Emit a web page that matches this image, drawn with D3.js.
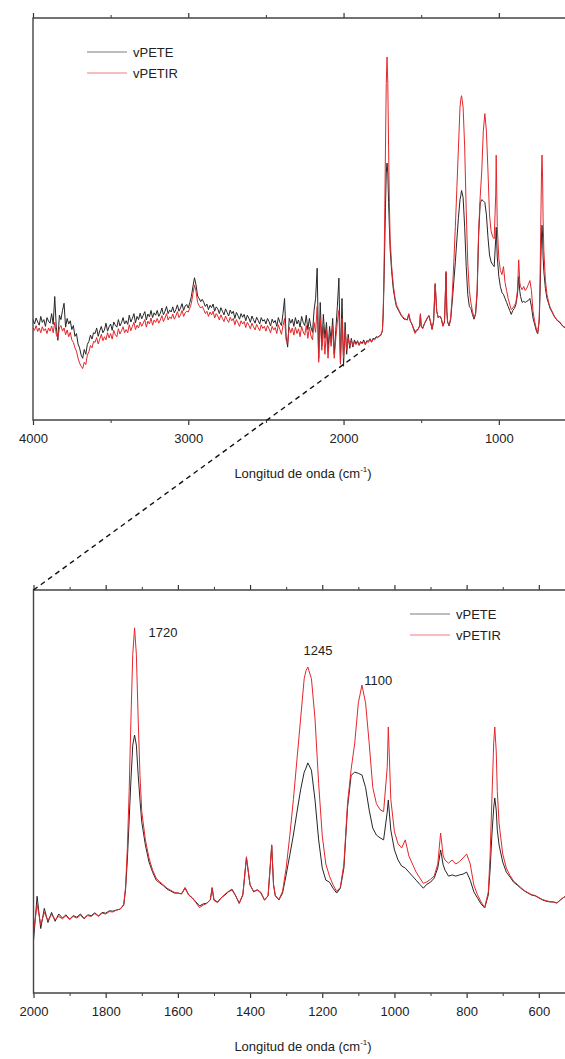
<!DOCTYPE html>
<html>
<head>
<meta charset="utf-8">
<script src="https://cdn.jsdelivr.net/npm/d3@7"></script>
<style>
  body { margin: 0; background: #fff; }
  svg { display: block; }
  text { font-family: Arial, "Liberation Sans", sans-serif; fill: #222; }
</style>
</head>
<body>
<svg id="chart" width="565" height="1059"></svg>
<script>
// FTIR spectra, vPETE vs vPETIR (absorbance, arbitrary units)

const wavenumber = [
  4000,3990,3980,3970,3960,3950,3940,3930,3920,3910,
  3900,3890,3880,3870,3860,3850,3840,3830,3820,3810,
  3800,3790,3780,3770,3760,3750,3740,3730,3720,3710,
  3700,3690,3680,3670,3660,3650,3640,3630,3620,3610,
  3600,3590,3580,3570,3560,3550,3540,3530,3520,3510,
  3500,3490,3480,3470,3460,3450,3440,3430,3420,3410,
  3400,3390,3380,3370,3360,3350,3340,3330,3320,3310,
  3300,3290,3280,3270,3260,3250,3240,3230,3220,3210,
  3200,3190,3180,3170,3160,3150,3140,3130,3120,3110,
  3100,3090,3080,3070,3060,3050,3040,3030,3020,3010,
  3000,2990,2980,2970,2960,2950,2940,2930,2920,2910,
  2900,2890,2880,2870,2860,2850,2840,2830,2820,2810,
  2800,2790,2780,2770,2760,2750,2740,2730,2720,2710,
  2700,2690,2680,2670,2660,2650,2640,2630,2620,2610,
  2600,2590,2580,2570,2560,2550,2540,2530,2520,2510,
  2500,2490,2480,2470,2460,2450,2440,2430,2420,2410,
  2400,2390,2380,2370,2360,2350,2340,2330,2320,2310,
  2300,2290,2280,2270,2260,2250,2240,2230,2220,2210,
  2200,2190,2180,2170,2160,2150,2140,2130,2120,2110,
  2100,2090,2080,2070,2060,2050,2040,2030,2020,2010,
  2000,1990,1980,1970,1960,1950,1940,1930,1920,1910,
  1900,1890,1880,1870,1860,1850,1840,1830,1820,1810,
  1800,1790,1780,
  1770,1760,1750,1745,1740,1735,1730,1725,1720,1715,
  1710,1705,1700,1690,1680,1670,1660,1650,1640,1630,
  1620,1610,1600,1590,1580,1570,1560,1550,1540,1530,
  1520,1510,1505,1500,1490,1480,1470,1460,1450,1440,
  1430,1420,1410,1400,1390,1380,1370,1360,1350,1340,
  1335,1330,1320,1310,1300,1290,1280,1270,1260,1250,
  1245,1240,1230,1220,1210,1200,1190,1180,1170,1160,
  1150,1140,1130,1120,1110,1100,1090,1080,1070,1060,
  1050,1040,1030,1020,1017,1010,1000,990,980,970,
  960,950,940,930,920,910,900,890,880,872,
  865,860,850,840,830,820,810,800,790,780,
  770,760,750,740,735,730,725,722,718,715,
  710,700,690,680,670,660,650,640,630,620,
  610,600,590,580,570,560,550,540,530,520,
  510,500
];

const vPETE = [
  .248,.236,.251,.241,.233,.255,.240,.247,.230,.252,
  .243,.238,.262,.235,.305,.228,.195,.258,.247,.270,
  .288,.228,.250,.236,.244,.222,.232,.205,.212,.186,
  .176,.158,.150,.172,.160,.185,.192,.208,.198,.214,
  .212,.226,.205,.219,.230,.214,.221,.238,.218,.229,
  .236,.220,.241,.233,.228,.247,.231,.239,.252,.236,
  .244,.235,.258,.241,.250,.262,.239,.255,.247,.263,
  .249,.258,.267,.246,.261,.254,.270,.252,.264,.258,
  .270,.255,.263,.276,.259,.268,.280,.262,.271,.266,
  .279,.264,.272,.284,.268,.276,.287,.270,.281,.285,
  .276,.290,.305,.330,.352,.334,.306,.300,.292,.298,
  .290,.280,.286,.272,.283,.277,.286,.268,.279,.274,
  .262,.277,.268,.259,.274,.265,.256,.271,.262,.268,
  .250,.265,.257,.248,.262,.253,.260,.244,.258,.251,
  .240,.256,.247,.238,.253,.245,.236,.252,.243,.247,
  .236,.250,.242,.231,.248,.239,.245,.230,.252,.240,
  .232,.262,.300,.205,.178,.250,.238,.248,.230,.252,
  .236,.246,.228,.255,.240,.232,.258,.222,.250,.228,
  .215,.270,.300,.376,.150,.290,.180,.260,.200,.240,
  .170,.230,.195,.250,.160,.220,.280,.351,.140,.300,
  .130,.240,.160,.210,.175,.200,.178,.196,.186,.194,
  .183,.192,.188,.196,.185,.194,.192,.199,.191,.200,
  .198,.204,.203,
  .206,.208,.218,.256,.330,.429,.529,.615,.640,.615,
  .541,.479,.424,.367,.325,.300,.280,.273,.266,.258,
  .253,.248,.248,.246,.260,.243,.236,.226,.216,.221,
  .223,.231,.260,.231,.226,.236,.243,.251,.256,.241,
  .223,.243,.335,.268,.251,.256,.248,.231,.241,.365,
  .268,.241,.231,.248,.293,.342,.392,.449,.504,.548,
  .558,.571,.553,.479,.380,.310,.280,.275,.260,.248,
  .260,.310,.460,.540,.548,.545,.541,.510,.454,.409,
  .392,.385,.380,.449,.479,.404,.355,.330,.315,.310,
  .300,.290,.280,.270,.260,.270,.275,.285,.310,.355,
  .318,.305,.290,.293,.290,.293,.295,.300,.280,.251,
  .236,.221,.211,.243,.305,.392,.459,.484,.454,.404,
  .367,.325,.300,.288,.275,.268,.260,.253,.248,.243,
  .241,.236,.231,.228,.226,.226,.223,.231,.238,.241,
  .238,.236
];

const vPETIR = [
  .226,.220,.232,.217,.226,.214,.229,.219,.224,.212,
  .226,.218,.231,.214,.240,.210,.200,.226,.232,.218,
  .226,.209,.221,.204,.215,.196,.190,.176,.168,.150,
  .138,.130,.124,.140,.134,.158,.166,.182,.176,.192,
  .190,.202,.186,.198,.210,.194,.204,.196,.214,.201,
  .212,.198,.220,.209,.204,.224,.211,.219,.229,.214,
  .222,.214,.234,.219,.230,.240,.222,.233,.226,.241,
  .230,.238,.247,.228,.243,.236,.251,.233,.246,.240,
  .250,.238,.246,.257,.242,.251,.262,.246,.254,.249,
  .261,.248,.256,.267,.252,.259,.270,.255,.264,.268,
  .266,.276,.288,.312,.334,.318,.290,.282,.276,.280,
  .272,.262,.268,.255,.266,.259,.268,.251,.262,.256,
  .246,.259,.250,.242,.256,.247,.240,.253,.244,.250,
  .234,.247,.239,.230,.244,.236,.242,.227,.240,.233,
  .224,.238,.229,.221,.235,.227,.219,.234,.225,.230,
  .218,.232,.224,.214,.230,.221,.227,.212,.234,.222,
  .210,.232,.250,.196,.188,.228,.214,.226,.208,.228,
  .212,.224,.204,.230,.216,.208,.232,.200,.228,.206,
  .196,.240,.215,.280,.140,.250,.170,.230,.160,.220,
  .150,.210,.180,.230,.150,.200,.240,.270,.135,.250,
  .150,.220,.170,.200,.180,.195,.182,.190,.184,.192,
  .182,.190,.186,.193,.184,.192,.190,.197,.190,.198,
  .196,.202,.201,
  .206,.208,.220,.262,.360,.500,.680,.840,.906,.840,
  .680,.540,.450,.380,.335,.305,.285,.276,.268,.260,
  .255,.250,.248,.246,.262,.244,.236,.224,.212,.218,
  .222,.232,.262,.230,.224,.236,.245,.252,.258,.242,
  .222,.245,.338,.268,.252,.256,.250,.230,.242,.368,
  .270,.242,.232,.252,.310,.390,.480,.580,.680,.780,
  .800,.809,.780,.680,.520,.390,.320,.290,.268,.252,
  .262,.320,.470,.555,.620,.720,.764,.720,.620,.510,
  .470,.455,.450,.560,.660,.480,.400,.370,.360,.380,
  .340,.320,.300,.286,.272,.276,.282,.290,.320,.397,
  .340,.330,.322,.330,.320,.326,.335,.345,.320,.268,
  .244,.226,.212,.250,.340,.480,.620,.660,.600,.500,
  .420,.345,.310,.292,.278,.270,.262,.254,.249,.244,
  .242,.237,.232,.229,.227,.226,.224,.231,.238,.240,
  .238,.236
];

const seriesNames = ['vPETE', 'vPETIR'];
const seriesColors = ['#262626', '#e5262b'];

const topMajorTicks = [4000, 3000, 2000, 1000];
const topMinorTicks = [3500, 2500, 1500];
const bottomMajorTicks = [2000, 1800, 1600, 1400, 1200, 1000, 800, 600];
const bottomMinorTicks = [1900, 1700, 1500, 1300, 1100, 900, 700];

const peakLabels = ['1720', '1245', '1100'];

const xTitle = 'Longitud de onda (cm';

// ---------------------------------------------------------------

const svg = d3.select('#chart');
const series = seriesNames.map((name, i) => ({
  name,
  color: seriesColors[i],
  values: wavenumber.map((w, j) => ({ w, v: (i === 0 ? vPETE : vPETIR)[j] }))
}));

const panels = [
  {
    id: 'top',
    x: d3.scaleLinear().domain([4000, 400]).range([33, 592]),
    y: d3.scaleLinear().domain([-0.005, 1.004]).range([420, 18]),
    major: topMajorTicks, minor: topMinorTicks,
    legend: { x: 87, y: 52 }
  },
  {
    id: 'bottom',
    x: d3.scaleLinear().domain([2000, 400]).range([33.5, 611]),
    y: d3.scaleLinear().domain([0, 1]).range([993, 590]),
    major: bottomMajorTicks, minor: bottomMinorTicks,
    legend: { x: 410, y: 614 }
  }
];

panels.forEach(p => drawPanel(p));
drawConnector(panels[0], panels[1]);
drawPeakLabels(panels[1]);

function drawPanel(p) {
  const [x0, x1] = p.x.range();
  const [y0, y1] = p.y.range(); // y0 bottom, y1 top
  const g = svg.append('g').attr('class', 'panel-' + p.id);

  g.append('clipPath').attr('id', 'clip-' + p.id)
    .append('rect')
    .attr('x', x0).attr('y', y1)
    .attr('width', x1 - x0).attr('height', y0 - y1);

  // spectra
  const line = d3.line()
    .x(d => p.x(d.w))
    .y(d => p.y(d.v));

  g.append('g').attr('clip-path', `url(#clip-${p.id})`)
    .selectAll('path')
    .data(series)
    .join('path')
    .attr('d', d => line(d.values))
    .attr('fill', 'none')
    .attr('stroke', d => d.color)
    .attr('stroke-width', 1)
    .attr('stroke-linejoin', 'round');

  // axes: bottom labelled, top mirrored
  const axes = [
    { axis: d3.axisBottom(p.x), minor: d3.axisBottom(p.x), at: y0 },
    { axis: d3.axisTop(p.x), minor: d3.axisTop(p.x), at: y1, blank: true }
  ];
  axes.forEach(a => {
    const major = g.append('g')
      .attr('transform', `translate(0,${a.at})`)
      .call(a.axis.tickValues(p.major).tickSize(5).tickPadding(9)
        .tickFormat(a.blank ? '' : d3.format('d')));
    major.select('.domain').remove();
    major.selectAll('line').attr('stroke', '#333').attr('stroke-width', 1.2);
    major.selectAll('text').attr('font-size', 13).attr('fill', '#222');

    const minor = g.append('g')
      .attr('transform', `translate(0,${a.at})`)
      .call(a.minor.tickValues(p.minor).tickSize(3).tickFormat(''));
    minor.select('.domain').remove();
    minor.selectAll('line').attr('stroke', '#333').attr('stroke-width', 1);
  });

  // frame (right side falls outside the picture)
  g.append('path')
    .attr('d', `M${x1},${y1}H${x0}V${y0}H${x1}`)
    .attr('fill', 'none')
    .attr('stroke', '#444')
    .attr('stroke-width', 1.4);

  // x title
  const t = g.append('text')
    .attr('x', 303)
    .attr('y', y0 + 58)
    .attr('text-anchor', 'middle')
    .attr('font-size', 13)
    .text(xTitle);
  t.append('tspan').attr('font-size', 8).attr('dy', -6).text('-1');
  t.append('tspan').attr('dy', 6).text(')');

  // legend
  const lg = g.append('g').attr('transform', `translate(${p.legend.x},${p.legend.y})`);
  series.forEach((s, i) => {
    lg.append('line')
      .attr('x1', 0).attr('x2', 40)
      .attr('y1', i * 21).attr('y2', i * 21)
      .attr('stroke', s.color)
      .attr('stroke-opacity', 0.6)
      .attr('stroke-width', 1.2);
    lg.append('text')
      .attr('x', 46).attr('y', i * 21 + 5)
      .attr('font-size', 13)
      .text(s.name);
  });
}

// dashed line from the zoomed panel back to the overview
function drawConnector(topP, botP) {
  svg.append('line')
    .attr('x1', botP.x(2000)).attr('y1', botP.y.range()[1])
    .attr('x2', topP.x(1840)).attr('y2', topP.y(0.18))
    .attr('stroke', '#111')
    .attr('stroke-width', 1.4)
    .attr('stroke-dasharray', '5,4');
}

function drawPeakLabels(p) {
  // label sits next to the vPETIR maximum near the quoted wavenumber
  const place = [
    { dx: 14, dy: 9, anchor: 'start' },
    { dx: 12, dy: -12, anchor: 'middle' },
    { dx: 6, dy: 0, anchor: 'start' }
  ];
  peakLabels.forEach((label, i) => {
    const w = +label;
    const near = d3.range(wavenumber.length).filter(j => Math.abs(wavenumber[j] - w) <= 12);
    const best = d3.greatest(near, j => vPETIR[j]);
    svg.append('text')
      .attr('x', p.x(w) + place[i].dx)
      .attr('y', p.y(vPETIR[best]) + place[i].dy)
      .attr('text-anchor', place[i].anchor)
      .attr('font-size', 13)
      .text(label);
  });
}
</script>
</body>
</html>
